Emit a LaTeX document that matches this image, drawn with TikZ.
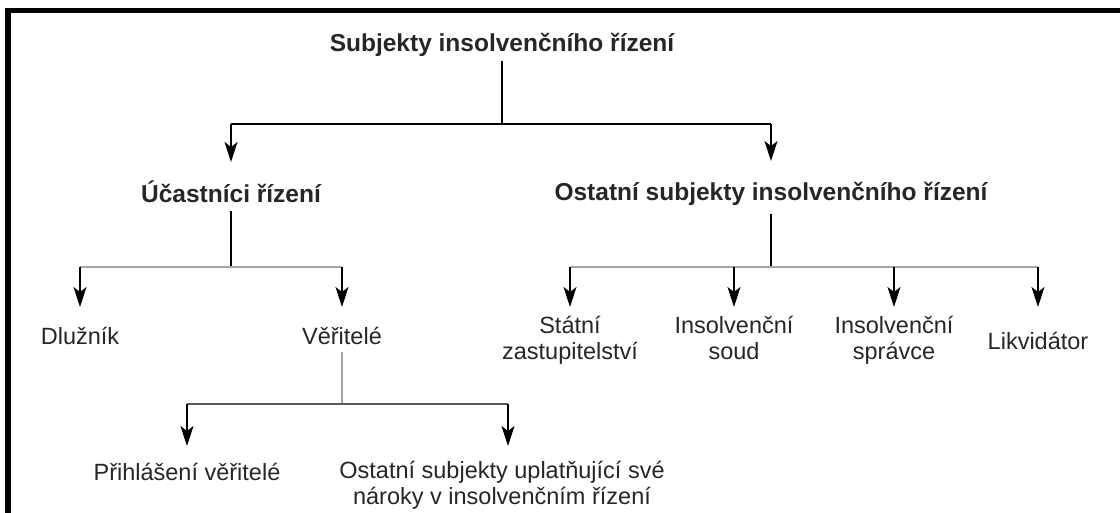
\documentclass[tikz,border=0pt]{standalone}
\usepackage{fontspec}
\setmainfont{Liberation Sans}
\usetikzlibrary{arrows.meta}

\tikzset{
  head/.style={font=\bfseries\fontsize{24.5}{28}\selectfont, text=black!85, inner sep=0pt, anchor=north},
  lbl/.style={font=\fontsize{23.5}{25.5}\selectfont, text=black!85, inner sep=0pt, align=center, anchor=north},
  stem/.style={line width=1.4pt, black},
  bar/.style={line width=1.6pt, black!35},
  darkbar/.style={line width=1.4pt, black!65},
  arr/.style={line width=1.4pt, black, -{Stealth[length=20pt,width=13pt,inset=5pt]}},
}

\begin{document}
\begin{tikzpicture}[x=1pt,y=-1pt]
\useasboundingbox (0,0) rectangle (1120,513);

% frame
\fill[black] (5,8) rectangle (1120,13);
\fill[black] (5,8) rectangle (11,513);

% labels
\node[head] (root) at (502,33) {Subjekty insolvenčního řízení};
\node[head] (uc) at (231,181) {Účastníci řízení};
\node[head] (os) at (771,182) {Ostatní subjekty insolvenčního řízení};

\node[lbl] (dl) at (80,327) {Dlužník};
\node[lbl] (ve) at (342,327) {Věřitelé};

\node[lbl] (st) at (570,316) {Státní\\zastupitelství};
\node[lbl] (is) at (734,316) {Insolvenční\\soud};
\node[lbl] (sp) at (894,316) {Insolvenční\\správce};
\node[lbl] (lk) at (1038,332) {Likvidátor};

\node[lbl] (pv) at (187,463) {Přihlášení věřitelé};
\node[lbl] (ou) at (502,461) {Ostatní subjekty uplatňující své\\nároky v insolvenčním řízení};

% junctions
\coordinate (b0) at (503,124);
\coordinate (b1) at (233,267);
\coordinate (b2) at (772,267);
\coordinate (b3) at (343,404);
\coordinate (a3) at (508,404);

% top level
\draw[stem, shorten <=4pt] (root.south) -- (root.south |- b0);
\draw[stem] (b0 -| uc) -- (b0 -| os);
\draw[arr, shorten >=19pt] (b0 -| uc) -- (uc.north);
\draw[arr, shorten >=21pt] (b0 -| os) -- (os.north);

% participants
\draw[stem, shorten <=8pt] (uc.south) -- (uc.south |- b1);
\draw[bar] (b1 -| dl) -- (b1 -| ve);
\draw[arr, shorten >=20pt] (b1 -| dl) -- (dl.north);
\draw[arr, shorten >=20pt] (b1 -| ve) -- (ve.north);

% other subjects
\draw[stem, shorten <=8pt] (os.south) -- (os.south |- b2);
\draw[bar] (b2 -| st) -- (b2 -| lk);
\draw[arr, shorten >=9pt] (b2 -| st) -- (st.north);
\draw[arr, shorten >=9pt] (b2 -| is) -- (is.north);
\draw[arr, shorten >=9pt] (b2 -| sp) -- (sp.north);
\draw[arr, shorten >=25pt] (b2 -| lk) -- (lk.north);

% creditors
\draw[bar, shorten <=7pt] (ve.south) -- (ve.south |- b3);
\draw[darkbar] (b3 -| pv) -- (a3);
\draw[arr, shorten >=17pt] (b3 -| pv) -- (pv.north);
\draw[arr, shorten >=15pt] (a3) -- (a3 |- ou.north);
\end{tikzpicture}
\end{document}
